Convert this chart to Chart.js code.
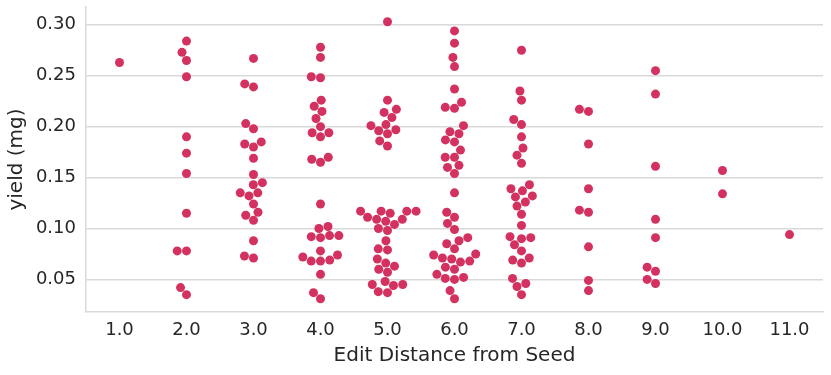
<!DOCTYPE html>
<html>
<head>
<meta charset="utf-8">
<title>yield vs edit distance</title>
<script src="https://cdn.jsdelivr.net/npm/chart.js@4.4.1/dist/chart.umd.min.js"></script>
<style>
  html, body { margin: 0; padding: 0; background: #ffffff; }
  #wrap { width: 831px; height: 375px; }
</style>
</head>
<body>
<div id="wrap"><canvas id="chart" width="831" height="375"></canvas></div>
<script>
// Swarm plot: yield (mg) per edit distance from the seed sequence.
// Values; horizontal spread is computed by a
// beeswarm pass (same idea as seaborn's swarmplot), not typed by hand.

const categories = [1, 2, 3, 4, 5, 6, 7, 8, 9, 10, 11];
const xTickLabels = ['1.0', '2.0', '3.0', '4.0', '5.0', '6.0', '7.0', '8.0', '9.0', '10.0', '11.0'];
const yTicks = [0.05, 0.10, 0.15, 0.20, 0.25, 0.30];

const dist1 = [0.263];
const dist2 = [0.284, 0.273, 0.265, 0.249, 0.190, 0.174, 0.154, 0.115, 0.078, 0.078, 0.042, 0.035];
const dist3 = [0.267, 0.242, 0.239, 0.203, 0.198, 0.185, 0.183, 0.180, 0.169, 0.153, 0.145, 0.143,
  0.135, 0.135, 0.132, 0.124, 0.116, 0.113, 0.108, 0.088, 0.073, 0.071];
const dist4 = [0.278, 0.268, 0.249, 0.248, 0.226, 0.220, 0.215, 0.208, 0.200, 0.194, 0.194, 0.190,
  0.170, 0.168, 0.165, 0.124, 0.102, 0.100, 0.093, 0.093, 0.092, 0.091, 0.078, 0.074, 0.072, 0.069,
  0.068, 0.068, 0.055, 0.037, 0.031];
const dist5 = [0.303, 0.226, 0.217, 0.214, 0.209, 0.202, 0.201, 0.197, 0.196, 0.193, 0.186, 0.181,
  0.117, 0.117, 0.117, 0.117, 0.115, 0.111, 0.109, 0.109, 0.107, 0.104, 0.100, 0.098, 0.088, 0.080,
  0.079, 0.070, 0.066, 0.063, 0.060, 0.057, 0.048, 0.045, 0.045, 0.044, 0.038, 0.037];
const dist6 = [0.294, 0.282, 0.268, 0.259, 0.237, 0.224, 0.219, 0.218, 0.201, 0.195, 0.193, 0.187,
  0.185, 0.177, 0.170, 0.170, 0.162, 0.160, 0.154, 0.135, 0.116, 0.111, 0.105, 0.099, 0.091, 0.088,
  0.085, 0.080, 0.075, 0.074, 0.071, 0.070, 0.068, 0.067, 0.062, 0.060, 0.055, 0.052, 0.051, 0.050,
  0.039, 0.031];
const dist7 = [0.275, 0.235, 0.226, 0.207, 0.202, 0.190, 0.179, 0.172, 0.164, 0.143, 0.139, 0.137,
  0.132, 0.131, 0.126, 0.122, 0.114, 0.103, 0.092, 0.091, 0.090, 0.084, 0.078, 0.071, 0.069, 0.066,
  0.051, 0.046, 0.043, 0.035];
const dist8 = [0.217, 0.215, 0.183, 0.139, 0.118, 0.116, 0.082, 0.049, 0.039];
const dist9 = [0.255, 0.232, 0.161, 0.109, 0.091, 0.062, 0.058, 0.050, 0.046];
const dist10 = [0.157, 0.134];
const dist11 = [0.094];

const groups = [dist1, dist2, dist3, dist4, dist5, dist6, dist7, dist8, dist9, dist10, dist11];

const DOT_COLOR = '#d3315f';
const TEXT_COLOR = '#262626';
const GRID_COLOR = '#d9d9d9';
const DOT_RADIUS = 4.5;
const SWARM_GAP = 9.3; // centre-to-centre distance in px

// Initial points sit on the category centre; the swarm pass moves them sideways.
function basePoints() {
  const pts = [];
  groups.forEach((vals, gi) => {
    vals.forEach((v) => pts.push({ x: categories[gi], y: v, g: gi }));
  });
  return pts;
}

// Beeswarm in pixel space: lowest value first, each point takes the
// candidate offset closest to the centre that does not overlap (left first).
function swarmOffsets(ys, d) {
  const order = ys.map((_, i) => i).sort((a, b) => ys[b] - ys[a]);
  const placed = [];
  const out = new Array(ys.length).fill(0);
  for (const i of order) {
    const y = ys[i];
    const near = placed.filter((p) => Math.abs(p.y - y) < d);
    const cands = [0];
    for (const p of near) {
      const dx = Math.sqrt(d * d - (p.y - y) * (p.y - y));
      cands.push(p.x - dx, p.x + dx);
    }
    const sorted = cands.map((c, k) => ({ c, k })).sort((a, b) => (Math.abs(a.c) - Math.abs(b.c)) || (a.k - b.k));
    let x = 0;
    for (const { c } of sorted) {
      const ok = near.every((p) => (p.x - c) * (p.x - c) + (p.y - y) * (p.y - y) >= d * d - 0.01);
      if (ok) { x = c; break; }
    }
    placed.push({ x, y });
    out[i] = x;
  }
  return out;
}

function applySwarm(chart) {
  const xs = chart.scales.x;
  const ysc = chart.scales.y;
  const pxPerUnit = xs.getPixelForValue(2) - xs.getPixelForValue(1);
  const pts = chart.data.datasets[0].data;
  groups.forEach((vals, gi) => {
    const idx = [];
    pts.forEach((p, i) => { if (p.g === gi) idx.push(i); });
    const pys = idx.map((i) => ysc.getPixelForValue(pts[i].y));
    const offs = swarmOffsets(pys, SWARM_GAP);
    idx.forEach((i, k) => { pts[i].x = categories[gi] + offs[k] / pxPerUnit; });
  });
  chart.update('none');
}

const chart = new Chart(document.getElementById('chart'), {
  type: 'scatter',
  data: {
    datasets: [{
      data: basePoints(),
      backgroundColor: DOT_COLOR,
      borderWidth: 0,
      pointRadius: DOT_RADIUS,
      pointHoverRadius: DOT_RADIUS,
    }],
  },
  options: {
    responsive: false,
    animation: false,
    layout: { padding: { left: 0, right: 8, top: 7, bottom: 0 } },
    plugins: { legend: { display: false }, tooltip: { enabled: false } },
    scales: {
      x: {
        type: 'linear',
        min: 0.5,
        max: 11.5,
        afterFit: (s) => { s.height = 63; },
        afterBuildTicks: (s) => { s.ticks = categories.map((v) => ({ value: v })); },
        ticks: {
          callback: (v) => xTickLabels[categories.indexOf(v)] || '',
          color: TEXT_COLOR,
          font: { family: 'DejaVu Sans', size: 18 },
          padding: 8,
          maxRotation: 0,
          autoSkip: false,
        },
        grid: { display: false, drawTicks: false },
        border: { display: true, color: GRID_COLOR, width: 1.5 },
        title: {
          display: true,
          text: 'Edit Distance from Seed',
          color: TEXT_COLOR,
          font: { family: 'DejaVu Sans', size: 20 },
          padding: { top: 0, bottom: 7 },
        },
      },
      y: {
        min: 0.018,
        max: 0.3175,
        // fixed gutter width, and no extra half-label padding at the ends
        afterFit: (s) => { s.width = 86; s.paddingTop = 0; s.paddingBottom = 0; },
        afterBuildTicks: (s) => { s.ticks = yTicks.map((v) => ({ value: v })); },
        ticks: {
          callback: (v) => v.toFixed(2),
          color: TEXT_COLOR,
          font: { family: 'DejaVu Sans', size: 18 },
          padding: 10,
        },
        grid: { color: GRID_COLOR, lineWidth: 1.5, drawTicks: false },
        border: { display: true, color: GRID_COLOR, width: 1.5 },
        title: {
          display: true,
          text: 'yield (mg)',
          color: TEXT_COLOR,
          font: { family: 'DejaVu Sans', size: 20 },
          padding: { top: 5, bottom: 0 },
        },
      },
    },
  },
});

applySwarm(chart);
</script>
</body>
</html>
